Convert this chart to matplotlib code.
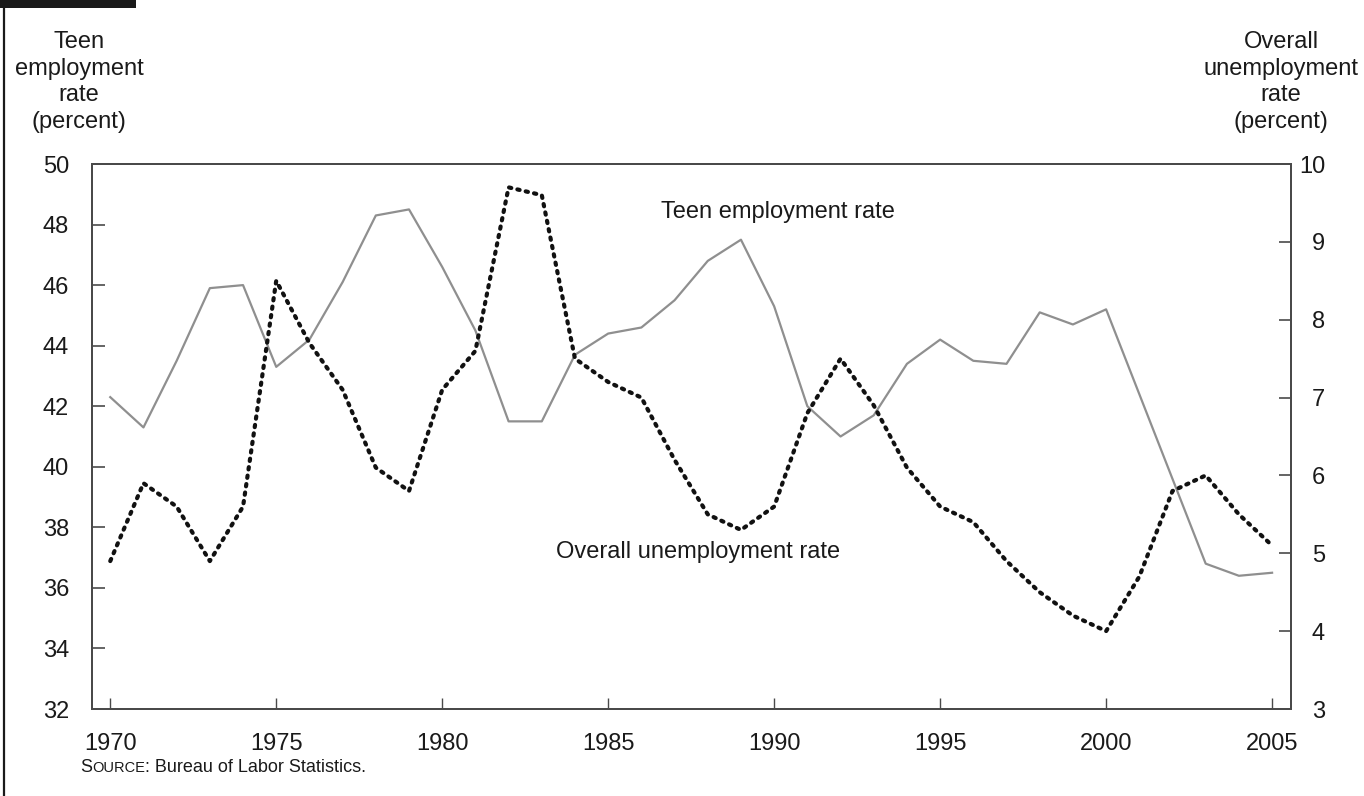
import matplotlib
matplotlib.use("Agg")
import matplotlib.pyplot as plt

plt.rcParams['font.family'] = ['Liberation Sans', 'DejaVu Sans']

years = list(range(1970, 2006))
teen_employment = [42.3, 41.3, 43.5, 45.9, 46.0, 43.3, 44.2, 46.1, 48.3, 48.5,
                   46.6, 44.5, 41.5, 41.5, 43.7, 44.4, 44.6, 45.5, 46.8, 47.5,
                   45.3, 42.0, 41.0, 41.7, 43.4, 44.2, 43.5, 43.4, 45.1, 44.7,
                   45.2, 42.4, 39.6, 36.8, 36.4, 36.5]
unemployment = [4.9, 5.9, 5.6, 4.9, 5.6, 8.5, 7.7, 7.1, 6.1, 5.8,
                7.1, 7.6, 9.7, 9.6, 7.5, 7.2, 7.0, 6.2, 5.5, 5.3,
                5.6, 6.8, 7.5, 6.9, 6.1, 5.6, 5.4, 4.9, 4.5, 4.2,
                4.0, 4.7, 5.8, 6.0, 5.5, 5.1]
left_ticks = [32, 34, 36, 38, 40, 42, 44, 46, 48, 50]
right_ticks = [3, 4, 5, 6, 7, 8, 9, 10]
x_ticks = [1970, 1975, 1980, 1985, 1990, 1995, 2000, 2005]

W, H = 1364, 796
fig = plt.figure(figsize=(W / 100, H / 100), dpi=100)
l, r, t, b = 92, 1291, 164, 709
ax = fig.add_axes([l / W, 1 - b / H, (r - l) / W, (b - t) / H])
ax2 = ax.twinx()

spine_c = '#4a4a4a'
txt_c = '#1a1a1a'
ax.plot(years, teen_employment, color='#8f8f8f', lw=1.6, zorder=2)
ax2.plot(years, unemployment, color='#111111', lw=3.0, linestyle=(0, (0.55, 1.5)),
         dash_capstyle='round', zorder=3)

ax.set_xlim(1969.45, 2005.57)
ax.set_ylim(32, 50)
ax2.set_ylim(3, 10)
ax.set_yticks(left_ticks)
ax2.set_yticks(right_ticks)
ax.set_xticks(x_ticks)

for a in (ax, ax2):
    for s in a.spines.values():
        s.set_color(spine_c)
        s.set_linewidth(1.4)
ax.tick_params(axis='y', direction='in', length=9, width=1.2, color=spine_c,
               labelsize=17, pad=16.5, labelcolor=txt_c)
ax.tick_params(axis='x', direction='in', length=8, width=1.0, color=spine_c,
               labelsize=17, pad=17, labelcolor=txt_c)
ax2.tick_params(axis='y', direction='in', length=9, width=1.2, color=spine_c,
                labelsize=17, pad=24.5, labelcolor=txt_c)
for lab in ax2.get_yticklabels():
    lab.set_horizontalalignment('right')

ax.text(1990.1, 48.4, 'Teen employment rate', fontsize=17, color=txt_c,
        ha='center', va='center')
ax.text(1987.7, 37.2, 'Overall unemployment rate', fontsize=17, color=txt_c,
        ha='center', va='center')

fig.text(79 / W, 1 - 82 / H, 'Teen\nemployment\nrate\n(percent)', fontsize=17,
         ha='center', va='center', linespacing=1.28, color=txt_c)
fig.text(1281 / W, 1 - 82 / H, 'Overall\nunemployment\nrate\n(percent)', fontsize=17,
         ha='center', va='center', linespacing=1.28, color=txt_c)

# header bar and left rule
fig.add_artist(plt.Rectangle((0, 1 - 8 / H), 136 / W, 8 / H, transform=fig.transFigure,
                             color='#1a1a1a', lw=0))
fig.add_artist(plt.Line2D([4 / W, 4 / W], [0, 1], transform=fig.transFigure,
                          color='#1a1a1a', lw=1.6))

# source line with small caps
fig.canvas.draw()
renderer = fig.canvas.get_renderer()
x0, y0 = 80 / W, 1 - 772 / H
parts = [('S', 13), ('OURCE', 10.5), (': Bureau of Labor Statistics.', 13)]
xc = x0
for txt, fs in parts:
    tt = fig.text(xc, y0, txt, fontsize=fs, color=txt_c, ha='left', va='baseline')
    bb = tt.get_window_extent(renderer)
    xc += bb.width / W

fig.savefig('out.png', dpi=100)
